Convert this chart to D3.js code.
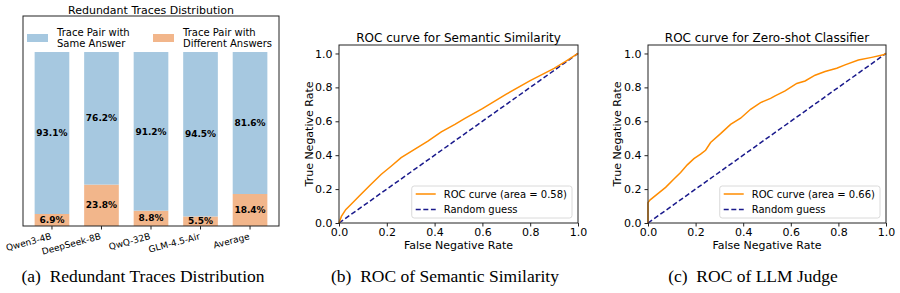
<!DOCTYPE html>
<html>
<head>
<meta charset="utf-8">
<script src="https://cdn.jsdelivr.net/npm/d3@7"></script>
<style>
  body { margin: 0; background: #fff; }
  svg { display: block; }
  text { font-family: "DejaVu Sans", sans-serif; fill: #000; }
  .caption { font-family: "Liberation Serif", "Times New Roman", serif; font-size: 17.5px; }
</style>
</head>
<body>
<svg width="900" height="293"></svg>
<script>
// panel (a) data
const models = ['Qwen3-4B', 'DeepSeek-8B', 'QwQ-32B', 'GLM-4.5-Air', 'Average'];
const sameAnswer = [93.1, 76.2, 91.2, 94.5, 81.6];
const diffAnswer = [6.9, 23.8, 8.8, 5.5, 18.4];

// panel (b) ROC, semantic similarity
const semFpr = [0, 0.01, 0.028, 0.056, 0.091, 0.133, 0.176, 0.218, 0.26, 0.316, 0.372, 0.428, 0.485, 0.527, 0.6, 0.7, 0.8, 0.9, 0.95, 1];
const semTpr = [0, 0.039, 0.079, 0.118, 0.168, 0.227, 0.286, 0.335, 0.385, 0.434, 0.483, 0.538, 0.582, 0.617, 0.675, 0.76, 0.84, 0.912, 0.955, 1];

// panel (c) ROC, zero-shot classifier
const zsFpr = [0, 0, 0.008, 0.039, 0.074, 0.109, 0.137, 0.165, 0.193, 0.221, 0.242, 0.263, 0.305, 0.347, 0.389, 0.431, 0.473, 0.515, 0.534, 0.576, 0.625, 0.66, 0.702, 0.744, 0.793, 0.828, 0.884, 0.94, 0.989, 1];
const zsTpr = [0, 0.12, 0.135, 0.17, 0.21, 0.259, 0.298, 0.343, 0.38, 0.406, 0.429, 0.475, 0.527, 0.582, 0.618, 0.671, 0.71, 0.735, 0.75, 0.779, 0.823, 0.838, 0.872, 0.894, 0.913, 0.933, 0.961, 0.977, 0.992, 1];

const rocTicks = [0, 0.2, 0.4, 0.6, 0.8, 1.0];
const legendLabels = ['ROC curve (area = 0.58)', 'ROC curve (area = 0.66)'];

const BLUE = '#a6c8e0';
const ORANGE = '#f2b68b';

const svg = d3.select('svg');

// ---------- panel (a) ----------
const A = { left: 23, right: 279, top: 16, bottom: 226 };
const xA = d3.scaleBand().domain(models).range([A.left, A.right]).paddingInner(0.3).paddingOuter(0.235);
const yA = d3.scaleLinear().domain([0, 120.7]).range([A.bottom, A.top]);

const gA = svg.append('g');

const rows = models.map((m, i) => ({ model: m, same: sameAnswer[i], diff: diffAnswer[i] }));

gA.selectAll('.diff')
  .data(rows)
  .enter()
  .append('rect')
  .attr('x', d => xA(d.model))
  .attr('width', xA.bandwidth())
  .attr('y', d => yA(d.diff))
  .attr('height', d => yA(0) - yA(d.diff))
  .attr('fill', ORANGE);

gA.selectAll('.same')
  .data(rows)
  .enter()
  .append('rect')
  .attr('x', d => xA(d.model))
  .attr('width', xA.bandwidth())
  .attr('y', d => yA(d.diff + d.same))
  .attr('height', d => yA(d.diff) - yA(d.diff + d.same))
  .attr('fill', BLUE);

// value labels in the middle of each segment
gA.selectAll('.lblDiff')
  .data(rows)
  .enter()
  .append('text')
  .attr('x', d => xA(d.model) + xA.bandwidth() / 2)
  .attr('y', d => yA(d.diff / 2))
  .attr('dy', '0.35em')
  .attr('text-anchor', 'middle')
  .style('font-size', '9px')
  .style('font-weight', 'bold')
  .text(d => d.diff.toFixed(1) + '%');

gA.selectAll('.lblSame')
  .data(rows)
  .enter()
  .append('text')
  .attr('x', d => xA(d.model) + xA.bandwidth() / 2)
  .attr('y', d => yA(d.diff + d.same / 2))
  .attr('dy', '0.35em')
  .attr('text-anchor', 'middle')
  .style('font-size', '9px')
  .style('font-weight', 'bold')
  .text(d => d.same.toFixed(1) + '%');

// frame
gA.append('rect')
  .attr('x', A.left).attr('y', A.top)
  .attr('width', A.right - A.left).attr('height', A.bottom - A.top)
  .attr('fill', 'none').attr('stroke', '#222').attr('stroke-width', 1);

// x axis with rotated labels
const axA = gA.append('g')
  .attr('transform', `translate(0, ${A.bottom})`)
  .call(d3.axisBottom(xA).tickSizeOuter(0).tickSize(3.5).tickPadding(2));
axA.select('.domain').remove();
axA.selectAll('line').attr('stroke', '#222');
axA.selectAll('text')
  .style('font-size', '9px')
  .attr('text-anchor', 'end')
  .attr('x', 0)
  .attr('y', 0)
  .attr('dy', 0)
  .attr('transform', 'translate(0, 13) rotate(-15)');

gA.append('text')
  .attr('x', (A.left + A.right) / 2)
  .attr('y', 14)
  .attr('text-anchor', 'middle')
  .style('font-size', '11px')
  .text('Redundant Traces Distribution');

// legend (a)
const legA = [
  { color: BLUE, x: 27, lines: ['Trace Pair with', 'Same Answer'] },
  { color: ORANGE, x: 153, lines: ['Trace Pair with', 'Different Answers'] },
];
legA.forEach(l => {
  gA.append('rect').attr('x', l.x).attr('y', 34).attr('width', 21).attr('height', 8).attr('fill', l.color);
  const t = gA.append('text').attr('x', l.x + 30).attr('y', 35.5).style('font-size', '10px');
  l.lines.forEach((s, i) => t.append('tspan').attr('x', l.x + 30).attr('dy', i ? 11.5 : 0).text(s));
});

svg.append('text').attr('class', 'caption').attr('x', 143).attr('y', 282).attr('text-anchor', 'middle')
  .text('(a)\u2002Redundant Traces Distribution');

// ---------- ROC panels ----------
function rocPanel(opts) {
  const { left, right, fpr, tpr, title, legendLabel, ylabelX } = opts;
  const top = 45, bottom = 223;
  const x = d3.scaleLinear().domain([0, 1]).range([left, right]);
  const y = d3.scaleLinear().domain([0, 1.05]).range([bottom, top]);
  const g = svg.append('g');

  const pts = fpr.map((f, i) => [f, tpr[i]]);
  const line = d3.line().x(d => x(d[0])).y(d => y(d[1]));

  g.append('path')
    .datum([[0, 0], [1, 1]])
    .attr('d', line)
    .attr('fill', 'none')
    .attr('stroke', '#1a1a8c')
    .attr('stroke-width', 1.5)
    .attr('stroke-dasharray', '5,2.6');

  g.append('path')
    .datum(pts)
    .attr('d', line)
    .attr('fill', 'none')
    .attr('stroke', '#ff8c00')
    .attr('stroke-width', 1.5);

  const xAx = g.append('g').attr('transform', `translate(0, ${bottom})`)
    .call(d3.axisBottom(x).tickValues(rocTicks).tickFormat(d3.format('.1f')).tickSize(3.5).tickPadding(2));
  const yAx = g.append('g').attr('transform', `translate(${left}, 0)`)
    .call(d3.axisLeft(y).tickValues(rocTicks).tickFormat(d3.format('.1f')).tickSize(3.5).tickPadding(3));
  [xAx, yAx].forEach(a => {
    a.select('.domain').remove();
    a.selectAll('line').attr('stroke', '#222');
    a.selectAll('text').style('font-size', '11px').style('font-family', '"DejaVu Sans", sans-serif').attr('fill', '#000');
  });

  g.append('rect')
    .attr('x', left).attr('y', top)
    .attr('width', right - left).attr('height', bottom - top)
    .attr('fill', 'none').attr('stroke', '#222').attr('stroke-width', 1);

  g.append('text').attr('x', (left + right) / 2).attr('y', 41.5).attr('text-anchor', 'middle')
    .style('font-size', '12px').text(title);
  g.append('text').attr('x', (left + right) / 2).attr('y', 249).attr('text-anchor', 'middle')
    .style('font-size', '11px').text('False Negative Rate');
  g.append('text').attr('transform', `translate(${ylabelX}, ${(top + bottom) / 2}) rotate(-90)`)
    .attr('text-anchor', 'middle').style('font-size', '11px').text('True Negative Rate');

  // legend
  const lg = g.append('g');
  const items = [
    { label: legendLabel, color: '#ff8c00', dash: null },
    { label: 'Random guess', color: '#1a1a8c', dash: '5,2.6' },
  ];
  const box = lg.append('rect').attr('y', 186).attr('height', 32).attr('rx', 2.5)
    .attr('fill', '#fff').attr('fill-opacity', 0.8).attr('stroke', '#d0d0d0').attr('stroke-width', 0.8);
  const texts = [];
  items.forEach((it, i) => {
    const yy = 194 + i * 15.5;
    lg.append('line').attr('y1', yy).attr('y2', yy)
      .attr('stroke', it.color).attr('stroke-width', 1.5)
      .attr('stroke-dasharray', it.dash);
    texts.push(lg.append('text').attr('y', yy).attr('dy', '0.35em').style('font-size', '10px').text(it.label));
  });
  const tw = d3.max(texts, t => t.node().getComputedTextLength());
  const bw = 4 + 20 + 8 + tw + 5;
  const bx = right - 6 - bw;
  box.attr('x', bx).attr('width', bw);
  lg.selectAll('line').attr('x1', bx + 4).attr('x2', bx + 24);
  texts.forEach(t => t.attr('x', bx + 32));
}

rocPanel({
  left: 339, right: 578, fpr: semFpr, tpr: semTpr,
  title: 'ROC curve for Semantic Similarity', legendLabel: legendLabels[0], ylabelX: 312.5,
});
rocPanel({
  left: 648, right: 886, fpr: zsFpr, tpr: zsTpr,
  title: 'ROC curve for Zero-shot Classifier', legendLabel: legendLabels[1], ylabelX: 621,
});

svg.append('text').attr('class', 'caption').attr('x', 445).attr('y', 282).attr('text-anchor', 'middle')
  .text('(b)\u2002ROC of Semantic Similarity');
svg.append('text').attr('class', 'caption').attr('x', 753).attr('y', 282).attr('text-anchor', 'middle')
  .text('(c)\u2002ROC of LLM Judge');
</script>
</body>
</html>
